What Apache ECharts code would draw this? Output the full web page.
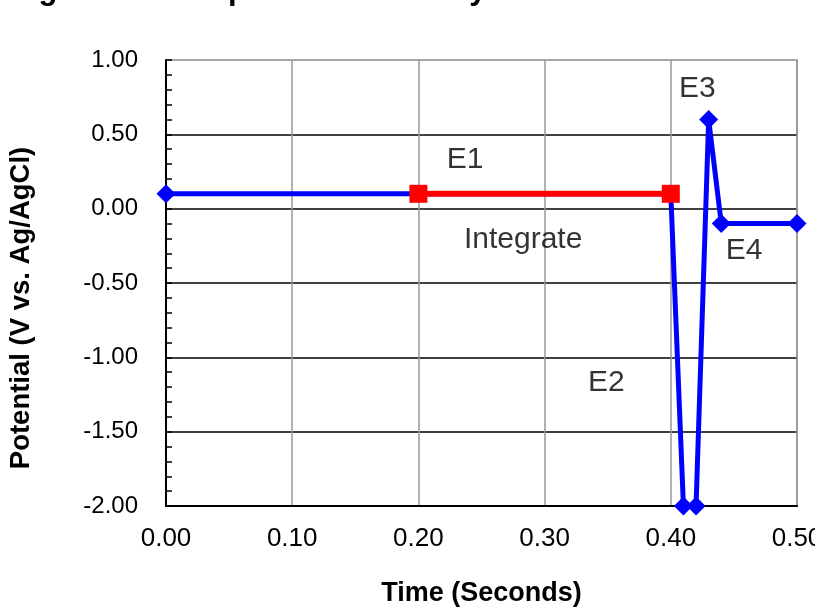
<!DOCTYPE html>
<html><head><meta charset="utf-8">
<script src="https://cdn.jsdelivr.net/npm/echarts@6/dist/echarts.min.js"></script>
<style>html,body{margin:0;padding:0;background:#fff}#c{width:815px;height:608px}</style>
</head><body><div id="c"></div>
<script>
var titleText = 'Figure 3. Four-potential carbohydrate waveform';
var xAxisName = 'Time (Seconds)';
var yAxisName = 'Potential (V vs. Ag/AgCl)';
var blueTimes = [0.00, 0.20, 0.40, 0.41, 0.42, 0.43, 0.44, 0.50];
var blueValues = [0.10, 0.10, 0.10, -2.00, -2.00, 0.60, -0.10, -0.10];
var blueMarked = [true, false, false, true, true, true, true, true];
var redTimes = [0.20, 0.40];
var redValues = [0.10, 0.10];
var labels = [
  {text: 'E1', t: 0.237, v: 0.33},
  {text: 'E3', t: 0.421, v: 0.81},
  {text: 'Integrate', t: 0.283, v: -0.21},
  {text: 'E4', t: 0.458, v: -0.285},
  {text: 'E2', t: 0.349, v: -1.17}
];

var blueData = blueTimes.map(function (t, i) {
  return {value: [t, blueValues[i]], symbolSize: blueMarked[i] ? 19 : 0};
});
var redData = redTimes.map(function (t, i) { return [t, redValues[i]]; });
var labelData = labels.map(function (l) { return {value: [l.t, l.v], name: l.text}; });
var FF = '"Liberation Sans", Arial, sans-serif';

var chart = echarts.init(document.getElementById('c'));
chart.setOption({
  animation: false,
  graphic: [{
    type: 'text', left: 11, top: -25,
    style: {text: titleText, font: 'bold 31px "Liberation Sans", Arial', fill: '#000'}
  }, {
    type: 'text', x: 21, y: 308, rotation: Math.PI / 2,
    style: {text: yAxisName, font: 'bold 27.5px "Liberation Sans", Arial', fill: '#000', align: 'center', verticalAlign: 'middle'}
  }],
  grid: {left: 166, right: 18, top: 60, bottom: 102, show: true, borderColor: '#8c8c8c', borderWidth: 1.5, outerBoundsMode: 'none', containLabel: false},
  xAxis: {
    type: 'value', min: 0, max: 0.5, interval: 0.1,
    name: xAxisName, nameLocation: 'middle', nameGap: 74,
    nameTextStyle: {fontFamily: FF, fontWeight: 'bold', fontSize: 27, color: '#000'},
    axisLine: {show: true, onZero: false, lineStyle: {color: '#000', width: 2}},
    axisTick: {show: false},
    axisLabel: {formatter: function (v) { return v.toFixed(2); }, fontFamily: FF, fontSize: 26, color: '#000', margin: 20, hideOverlap: false},
    splitLine: {show: true, lineStyle: {color: '#999', width: 1.5}}
  },
  yAxis: {
    type: 'value', min: -2, max: 1, interval: 0.5,
    axisLine: {show: true, onZero: false, lineStyle: {color: '#000', width: 2}},
    axisTick: {show: true, inside: true, length: 6, lineStyle: {color: '#000', width: 1.5}},
    minorTick: {show: true, splitNumber: 5, length: 6, lineStyle: {color: '#000', width: 1.5}},
    axisLabel: {formatter: function (v) { return v.toFixed(2); }, fontFamily: FF, fontSize: 24, color: '#000', margin: 28},
    splitLine: {show: true, showMaxLine: false, lineStyle: {color: '#000', width: 1.5}}
  },
  series: [
    {type: 'line', data: blueData, symbol: 'diamond', symbolSize: 19,
      lineStyle: {color: '#0000ff', width: 5}, itemStyle: {color: '#0000ff'}, z: 3},
    {type: 'line', data: redData, symbol: 'rect', symbolSize: 18,
      lineStyle: {color: '#ff0000', width: 6}, itemStyle: {color: '#ff0000'}, z: 4},
    {type: 'scatter', data: labelData, symbolSize: 0, silent: true,
      label: {show: true, position: 'inside', formatter: '{b}', fontFamily: FF, fontSize: 30, color: '#000', textBorderWidth: 0}, z: 5}
  ]
});
</script></body></html>
